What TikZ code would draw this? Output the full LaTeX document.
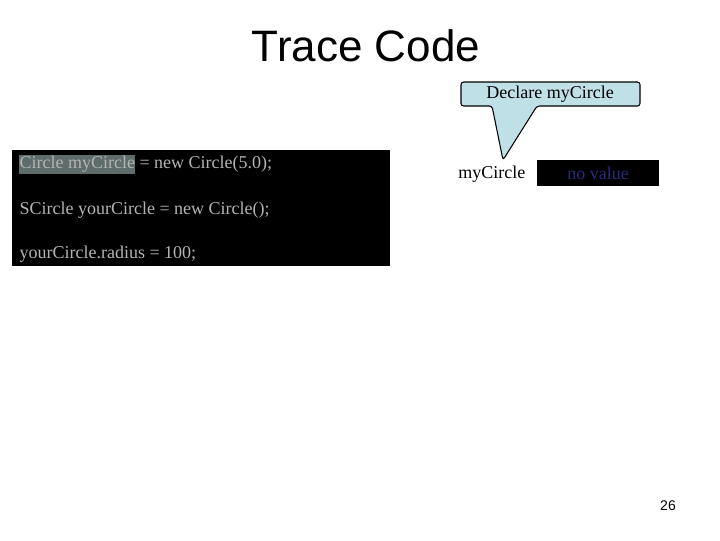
\documentclass[tikz,border=0pt]{standalone}
\usepackage{fontspec}
\setmainfont{Liberation Serif}
\newfontfamily\arialfont{Liberation Sans}
\usetikzlibrary{positioning}
\definecolor{calloutfill}{HTML}{BFE0E6}
\definecolor{codetext}{HTML}{B4B4B4}
\definecolor{markfill}{HTML}{5E6C6C}
\definecolor{valuetext}{HTML}{2A2A80}
\begin{document}
\begin{tikzpicture}[x=1pt,y=-1pt]
        \tikzset{code line/.style={text=codetext,font=\fontsize{13.5}{15}\selectfont,anchor=west,inner sep=0pt}}
        \useasboundingbox (0,0) rectangle (540,405);

        \node[font=\arialfont\fontsize{33}{36}\selectfont] (title) at (274.5,34) {Trace Code};

        % code panel
        \fill[black] (9,112.5) rectangle (292.5,199.5);
        \fill[markfill] (14,116) rectangle (101.5,130.5);
        \node[code line] (line1) at (14.5,123.5) {Circle myCircle = new Circle(5.0);};
        \node[code line] (line2) at (14.5,158) {SCircle yourCircle = new Circle();};
        \node[code line] (line3) at (14.5,190.5) {yourCircle.radius = 100;};

        % variable
        \node[font=\fontsize{13.5}{15}\selectfont,anchor=west,inner sep=0pt] (var) at (343.5,131) {myCircle};
        \node[fill=black,text=valuetext,font=\fontsize{13.5}{15}\selectfont,minimum width=92pt,minimum height=19.5pt,inner sep=0pt] (value) at (448.5,130) {no value};

        % callout
        \draw[line width=0.8pt,fill=calloutfill,rounded corners=2pt]
          (345.75,61.5) -- (480,61.5) -- (480,79.5) -- (402.75,79.5) -- (377.25,120) -- (369,79.5) -- (345.75,79.5) -- cycle;
        \node[font=\fontsize{13.5}{15}\selectfont] (callout) at (412.5,70.5) {Declare myCircle};

        \node[font=\arialfont\fontsize{10.5}{12}\selectfont] (page) at (501,379) {26};
\end{tikzpicture}
\end{document}
